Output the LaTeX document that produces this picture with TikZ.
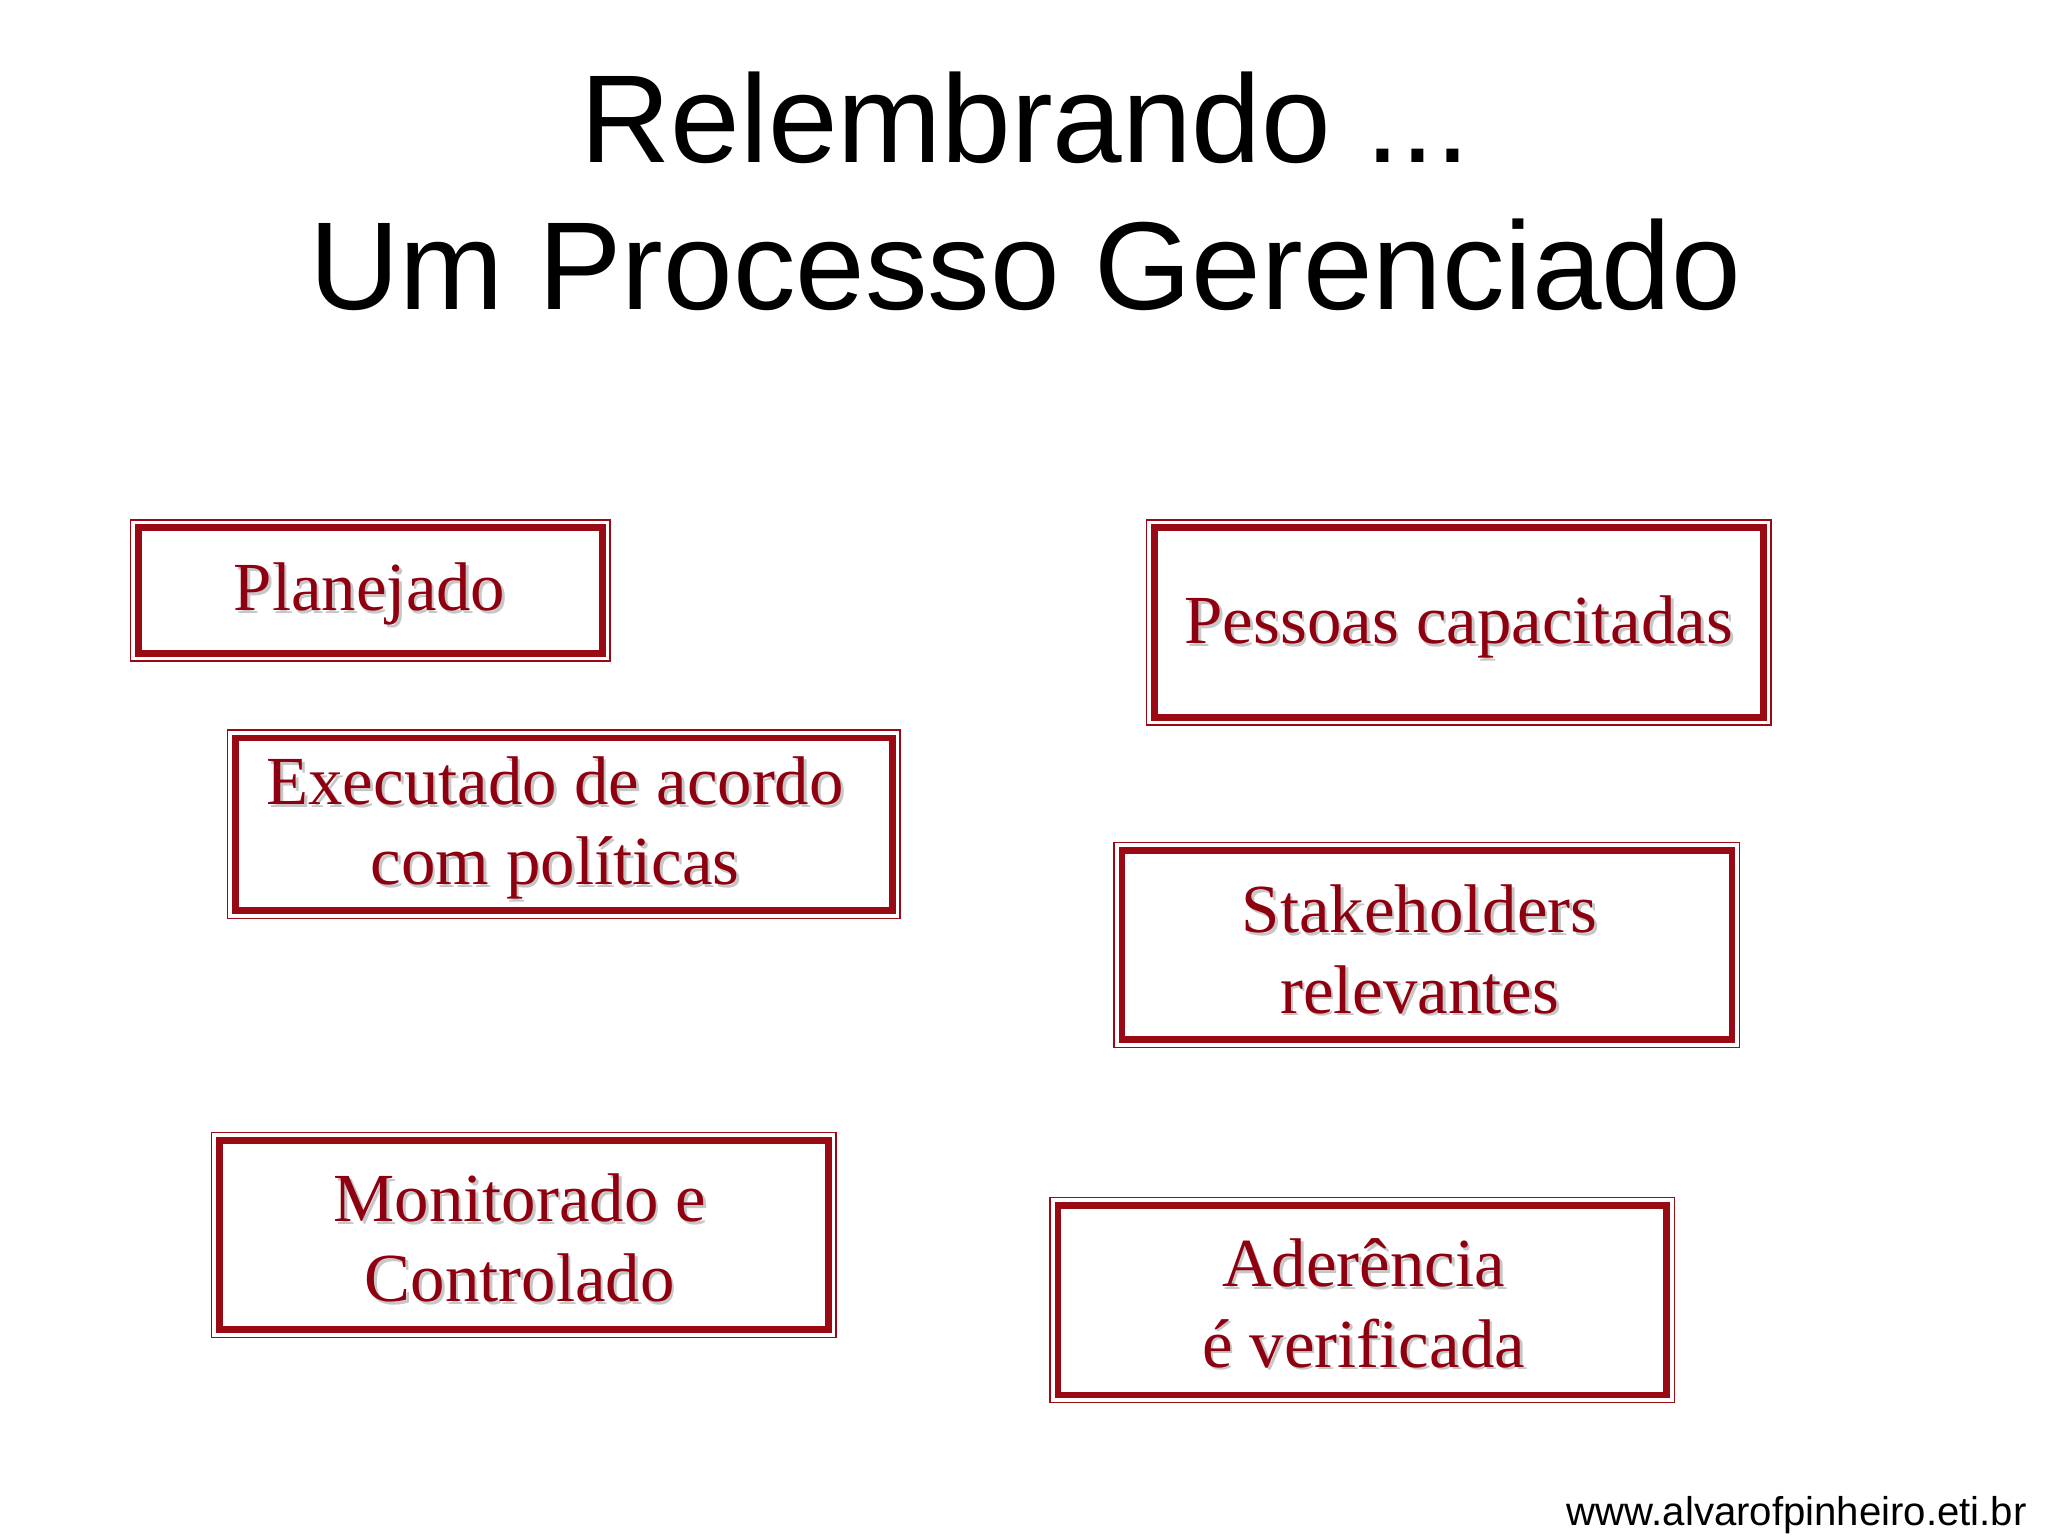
\documentclass[tikz,border=0pt]{standalone}
\usepackage{fontspec}
\setmainfont{Liberation Serif}
\newfontfamily\titlefont{Liberation Sans}
\definecolor{boxred}{HTML}{9A0A14}
\definecolor{txtred}{HTML}{8E0010}
\begin{document}
\begin{tikzpicture}[x=0.02cm,y=-0.02cm]
\tikzset{
  outerbox/.style={draw=boxred,line width=0.6pt},
  innerbox/.style={draw=boxred,line width=3pt},
  lbl/.style={align=center,text=txtred,font=\fontsize{30pt}{35pt}\selectfont,inner sep=0pt},
  shd/.style={align=center,text=black!22,font=\fontsize{30pt}{35pt}\selectfont,inner sep=0pt}
}
\useasboundingbox[fill=white] (0,0) rectangle (1568,1176);
\node[font=\titlefont\fontsize{54.5pt}{64pt}\selectfont,align=center,anchor=base] (title) at (785,237) {Relembrando ...\\Um Processo Gerenciado};
\node[font=\titlefont\fontsize{17.5pt}{18pt}\selectfont,anchor=base east,inner sep=0pt] (url) at (1552,1168) {www.alvarofpinheiro.eti.br};
\newcommand{\mybox}[4]{%
  \draw[outerbox] (#1,#2) rectangle (#3,#4);
  \draw[innerbox] (#1+6,#2+6) rectangle (#3-6,#4-6);}
\mybox{100}{398}{467}{506}
\mybox{174}{559}{689}{703}
\mybox{162}{867}{640}{1024}
\mybox{878}{398}{1356}{555}
\mybox{853}{645}{1332}{802}
\mybox{804}{917}{1282}{1074}
\node[shd] at (285,457) {Planejado};
\node[lbl] (b1) at (283,455) {Planejado};
\node[shd] at (427,636) {Executado de acordo\\com políticas};
\node[lbl] (b2) at (425,634) {Executado de acordo\\com políticas};
\node[shd] at (400,950) {Monitorado e\\Controlado};
\node[lbl] (b3) at (398,948) {Monitorado e\\Controlado};
\node[shd] at (1119,482) {Pessoas capacitadas};
\node[lbl] (b4) at (1117,480) {Pessoas capacitadas};
\node[shd] at (1089,729) {Stakeholders\\relevantes};
\node[lbl] (b5) at (1087,727) {Stakeholders\\relevantes};
\node[shd] at (1046,1000) {Aderência\\é verificada};
\node[lbl] (b6) at (1044,998) {Aderência\\é verificada};
\end{tikzpicture}
\end{document}
